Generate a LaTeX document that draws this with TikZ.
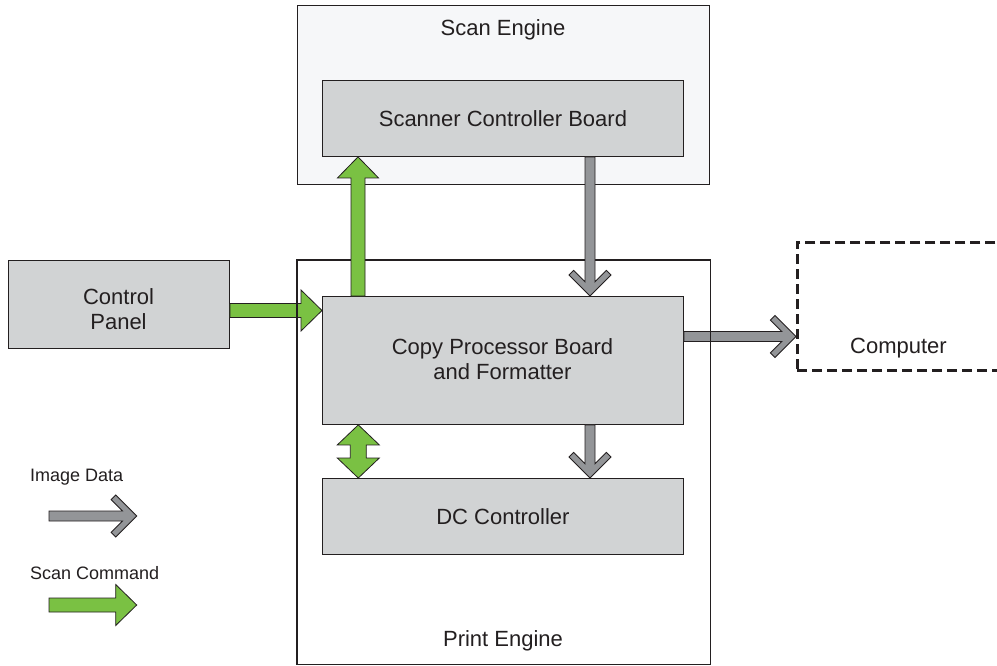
\documentclass[tikz,border=0pt]{standalone}
\usepackage{fontspec}
\setmainfont{Liberation Sans}
\usetikzlibrary{calc}
\definecolor{agreen}{HTML}{7AC143}
\definecolor{agray}{HTML}{939598}
\definecolor{boxgray}{HTML}{D1D3D4}
\definecolor{engfill}{HTML}{F6F7F9}
\definecolor{ink}{HTML}{231F20}
\tikzset{
  engine/.style={line width=1.3pt, anchor=north west, inner sep=0pt},
  engline/.style={draw=ink, line width=1.3pt},
  board/.style={draw=ink, line width=0.9pt, fill=boxgray, anchor=north west, inner sep=0pt,
    font=\fontsize{22}{25}\selectfont, text=ink, align=center},
  lbl/.style={font=\fontsize{22}{25}\selectfont, text=ink, anchor=base, inner sep=0pt, align=center},
  leg/.style={font=\fontsize{18}{21}\selectfont, text=ink, anchor=base west, inner sep=0pt},
  garrow/.style={fill=agreen, draw=ink, line width=0.8pt, line join=miter},
  yarrow/.style={fill=agray, draw=ink, line width=0.8pt, line join=miter},
  dashbox/.style={draw=ink, line width=2.6pt, dash pattern=on 10pt off 5pt, anchor=north west, inner sep=0pt},
}
\newcommand\GreenArrow[2]{%
  \coordinate (gh) at ($(#2)!21pt!(#1)$);
  \path[garrow] ($(#1)!7pt!90:(#2)$) -- ($(gh)!7pt!90:(#2)$) -- ($(gh)!20.5pt!90:(#2)$) -- (#2)
    -- ($(gh)!20.5pt!-90:(#2)$) -- ($(gh)!7pt!-90:(#2)$) -- ($(#1)!7pt!-90:(#2)$) -- cycle;}
\newcommand\GrayArrow[2]{%
  \coordinate (ya) at ($(#2)!14.2pt!(#1)$);
  \coordinate (yb) at ($(#2)!25.6pt!(#1)$);
  \coordinate (yc) at ($(#2)!21pt!(#1)$);
  \path[yarrow] ($(#1)!5pt!90:(#2)$) -- ($(ya)!5pt!90:(#2)$) -- ($(yb)!16.4pt!90:(#2)$)
    -- ($(yc)!21pt!90:(#2)$) -- (#2) -- ($(yc)!21pt!-90:(#2)$) -- ($(yb)!16.4pt!-90:(#2)$)
    -- ($(ya)!5pt!-90:(#2)$) -- ($(#1)!5pt!-90:(#2)$) -- cycle;}
\newcommand\DoubleGreenArrow[2]{%
  \coordinate (dh1) at ($(#1)!20pt!(#2)$);
  \coordinate (dh2) at ($(#2)!20pt!(#1)$);
  \path[garrow] (#1) -- ($(dh1)!21pt!90:(#2)$) -- ($(dh1)!8pt!90:(#2)$) -- ($(dh2)!8pt!-90:(#1)$)
    -- ($(dh2)!21pt!-90:(#1)$) -- (#2) -- ($(dh2)!21pt!90:(#1)$) -- ($(dh2)!8pt!90:(#1)$)
    -- ($(dh1)!8pt!-90:(#2)$) -- ($(dh1)!21pt!-90:(#2)$) -- cycle;}
\begin{document}
\begin{tikzpicture}[x=1pt,y=-1pt]
\clip (0,0) rectangle (997,665);
\fill[white] (0,0) rectangle (997,665);
% engines
\node[engine, engline, fill=engfill, minimum width=412pt, minimum height=179pt] (se) at (297,5) {};
\node[lbl] (setext) at (503,35.5) {Scan Engine};
\node[engine, fill=white, minimum width=412pt, minimum height=403pt] (pe) at (297,260) {};
\node[lbl] (petext) at (503,646) {Print Engine};
% control panel and computer
\node[board, minimum width=221pt, minimum height=88pt] (cp) at (8,260) {};
\node[lbl, anchor=center] (cptext) at (118.5,309) {Control\\Panel};
\node[dashbox, minimum width=230pt, minimum height=128pt] (comp) at (796,241) {};
\node[lbl] (comptext) at (898.5,353.5) {Computer};
% boards
\node[board, minimum width=361pt, minimum height=128pt] (cpb) at (322,296) {};
\node[lbl, anchor=center] (cpbtext) at (502.5,359) {Copy Processor Board\\and Formatter};
% horizontal arrows (below engine border)
\coordinate (g2s) at ($(cp.north east)+(0,50.5)$);
\coordinate (g2e) at ($(cpb.north west)+(0,14.5)$);
\GreenArrow{g2s}{g2e}
\coordinate (y2s) at ($(cpb.north east)+(0,40.5)$);
\coordinate (y2e) at ($(comp.north west)+(0,95.5)$);
\GrayArrow{y2s}{y2e}
\draw[engline] (pe.north west) rectangle (pe.south east);
\node[board] (scb) at (322,80) [minimum width=361pt, minimum height=76pt] {Scanner Controller Board};
\node[board] (dc) at (322,478) [minimum width=361pt, minimum height=76pt] {DC Controller};
% vertical arrows
\coordinate (g1s) at ($(cpb.north west)+(36,0)$);
\coordinate (g1e) at ($(scb.south west)+(36,0)$);
\GreenArrow{g1s}{g1e}
\coordinate (y1s) at ($(scb.south west)+(268,0)$);
\coordinate (y1e) at ($(cpb.north west)+(268,0)$);
\GrayArrow{y1s}{y1e}
\coordinate (y3s) at ($(cpb.south west)+(268,0)$);
\coordinate (y3e) at ($(dc.north west)+(268,0)$);
\GrayArrow{y3s}{y3e}
\coordinate (d1) at ($(cpb.south west)+(36.3,0)$);
\coordinate (d2) at ($(dc.north west)+(36.3,0)$);
\DoubleGreenArrow{d1}{d2}
% legend
\node[leg] (legimg) at (30,481.7) {Image Data};
\coordinate (l1s) at (49,516);
\coordinate (l1e) at (136.7,516);
\GrayArrow{l1s}{l1e}
\node[leg] (legscan) at (30,579.5) {Scan Command};
\coordinate (l2s) at (49,605);
\coordinate (l2e) at (136.7,605);
\GreenArrow{l2s}{l2e}
\end{tikzpicture}
\end{document}
